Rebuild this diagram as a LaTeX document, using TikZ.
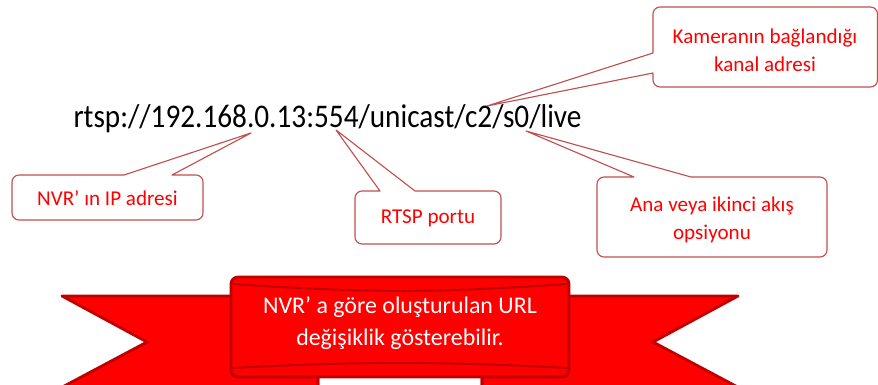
\documentclass[tikz,border=0pt]{standalone}
\usepackage{fontspec}
\setmainfont{Carlito}
\newfontfamily\urlfont{Carlito}[FakeStretch=0.885]
\usetikzlibrary{positioning}

\definecolor{ribbonred}{HTML}{FF0000}
\definecolor{ribbondark}{HTML}{C00000}
\definecolor{callborder}{HTML}{C0504D}

\begin{document}
\begin{tikzpicture}[
        x=0.025cm, y=-0.025cm,
        url/.style={inner sep=0pt, font=\urlfont\fontsize{23.5}{28}\selectfont},
        callout/.style={draw=callborder, line width=0.8pt, fill=white, line join=round},
        calltext/.style={text=ribbonred, align=center, font=\fontsize{15}{20}\selectfont},
        ribbon/.style={fill=ribbonred, draw=ribbondark, line width=2pt, line join=round},
        bannertext/.style={text=white, align=center, font=\fontsize{17}{23}\selectfont}
        ]
        \useasboundingbox (0,0) rectangle (878,385);

        % the address and the points the callouts refer to
        \node[url, anchor=base] (addr) at (327.5,128) {rtsp://192.168.0.13:554/unicast/c2/s0/live};
        \coordinate (ip) at (251,133);
        \coordinate (port) at (336,130);
        \coordinate (chan) at (487,106);
        \coordinate (stream) at (526,131);

        % callouts
        \draw[callout] (172,175) [rounded corners=5pt] -- (203,175) -- (203,220) -- (12,220) -- (12,175) [sharp corners] -- (124,175) -- (ip) -- cycle;
        \node[calltext] (iplabel) at (107.5,198) {NVR’ ın IP adresi};

        \draw[callout] (415,191) [rounded corners=5pt] -- (501,191) -- (501,244) -- (355,244) -- (355,191) [sharp corners] -- (380,191) -- (port) -- cycle;
        \node[calltext] (portlabel) at (428,218) {RTSP portu};

        \draw[callout] (691,177) [rounded corners=5pt] -- (827,177) -- (827,257) -- (597,257) -- (597,177) [sharp corners] -- (634,177) -- (stream) -- cycle;
        \node[calltext] (streamlabel) at (712,220) {Ana veya ikinci akış\\opsiyonu};

        \draw[callout] (653,73) [rounded corners=5pt] -- (653,87) -- (877.5,87) -- (877.5,7) -- (653,7) [sharp corners] -- (653,53) -- (chan) -- cycle;
        \node[calltext] (chanlabel) at (765,50) {Kameranın bağlandığı\\kanal adresi};

        % ribbon banner
        \begin{scope}
            \clip (0,0) rectangle (878,385);
            \draw[ribbon] (62,296) -- (318,296) -- (318,400) -- (38,400) -- (147,342) -- cycle;
            \draw[ribbon] (738,296) -- (482,296) -- (482,400) -- (762,400) -- (653,342) -- cycle;
            % folds under the front panel
            \draw[ribbon, rounded corners=3pt] (232,372) -- (318,372) -- (318,400) -- (232,400);
            \draw[ribbon, rounded corners=3pt] (568,372) -- (482,372) -- (482,400) -- (568,400);
            \fill[white] (320,380) rectangle (480,400);
            % front panel with its rolled edges
            \draw[ribbon, rounded corners=5pt] (231,277) rectangle (569,377);
            \draw[ribbondark, line width=1.4pt] (233,284) to[bend right=4] (567,284);
            \draw[ribbondark, line width=1.4pt] (233,368) to[bend left=3] (567,368);
        \end{scope}
        \node[bannertext] (note) at (400,323) {NVR’ a göre oluşturulan URL\\değişiklik gösterebilir.};
    \end{tikzpicture}
\end{document}
